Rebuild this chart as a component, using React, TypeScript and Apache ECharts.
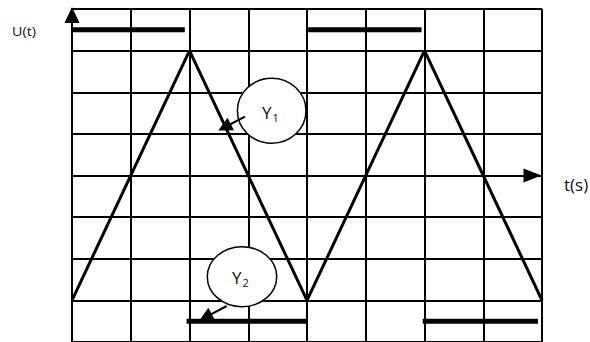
import React, { useEffect, useRef } from "react";
import * as echarts from "echarts";

// Axis ranges (time in grid units, voltage in grid units)
const T_MIN = 0;
const T_MAX = 8;
const T_STEP = 1;
const U_MIN = -4;
const U_MAX = 4;
const U_STEP = 1;

// Y1: triangle wave
const y1Times = [0, 2, 4, 6, 8];
const y1Values = [-3, 3, -3, 3, -3];

// Y2: square wave segments
const y2Starts = [0, 1.95, 4.02, 5.97];
const y2Ends = [1.92, 4.0, 5.95, 7.93];
const y2Levels = [3.5, -3.5, 3.5, -3.5];

const xName = "t(s)";
const yName = "U(t)";
const labelY1 = ["Y", "1"];
const labelY2 = ["Y", "2"];

const FONT = "'Open Sans', 'DejaVu Sans', sans-serif";

function arrow(x1: number, y1: number, x2: number, y2: number, len = 14, half = 7) {
  const dx = x2 - x1;
  const dy = y2 - y1;
  const L = Math.sqrt(dx * dx + dy * dy);
  const ux = dx / L;
  const uy = dy / L;
  const bx = x2 - ux * len;
  const by = y2 - uy * len;
  const nx = -uy;
  const ny = ux;
  return [
    {
      type: "line",
      z: 100,
      shape: { x1, y1, x2: bx + ux * 2, y2: by + uy * 2 },
      style: { stroke: "#000", lineWidth: 2 },
    },
    {
      type: "polygon",
      z: 100,
      shape: {
        points: [
          [x2, y2],
          [bx + nx * half, by + ny * half],
          [bx - nx * half, by - ny * half],
        ],
      },
      style: { fill: "#000" },
    },
  ];
}

function bubble(cx: number, cy: number, rx: number, ry: number, label: string[], tx: number, ty: number) {
  return [
    {
      type: "ellipse",
      z: 100,
      shape: { cx, cy, rx, ry },
      style: { fill: "#fff", stroke: "#000", lineWidth: 1.5 },
    },
    {
      type: "text",
      z: 101,
      x: tx,
      y: ty,
      style: {
        text: label[0],
        font: `17px ${FONT}`,
        fill: "#111",
        textAlign: "left",
        textVerticalAlign: "middle",
      },
    },
    {
      type: "text",
      z: 101,
      x: tx + 10.5,
      y: ty + 5.5,
      style: {
        text: label[1],
        font: `11px ${FONT}`,
        fill: "#111",
        textAlign: "left",
        textVerticalAlign: "middle",
      },
    },
  ];
}

export default function App() {
  const ref = useRef<HTMLDivElement>(null);

  useEffect(() => {
    if (!ref.current) return;
    const chart = echarts.init(ref.current, undefined, { renderer: "svg" });

    const gridLine = { show: true, lineStyle: { color: "#000", width: 2 } };

    const y2Series = y2Starts.map((s, i) => ({
      type: "line",
      name: "Y2",
      data: [
        [s, y2Levels[i]],
        [y2Ends[i], y2Levels[i]],
      ],
      symbol: "none",
      lineStyle: { color: "#000", width: 5, cap: "butt" },
      z: 5,
    }));

    chart.setOption({
      animation: false,
      backgroundColor: "#fff",
      grid: { left: 72, top: 9, width: 470, height: 338 },
      xAxis: {
        type: "value",
        min: T_MIN,
        max: T_MAX,
        interval: T_STEP,
        axisLine: {
          onZero: true,
          lineStyle: { color: "#000", width: 2 },
          symbol: ["none", "triangle"],
          symbolSize: [14, 18],
          symbolOffset: [0, -9.5],
        },
        axisTick: { show: false },
        axisLabel: { show: false },
        splitLine: gridLine,
      },
      yAxis: {
        type: "value",
        min: U_MIN,
        max: U_MAX,
        interval: U_STEP,
        axisLine: {
          onZero: true,
          lineStyle: { color: "#000", width: 2 },
          symbol: ["none", "triangle"],
          symbolSize: [15, 16],
          symbolOffset: [0, -6],
        },
        axisTick: { show: false },
        axisLabel: { show: false },
        splitLine: gridLine,
      },
      series: [
        {
          type: "line",
          name: "Y1",
          data: y1Times.map((t, i) => [t, y1Values[i]]),
          symbol: "none",
          lineStyle: { color: "#000", width: 3 },
          z: 4,
        },
        ...y2Series,
      ],
      graphic: [
        {
          type: "text",
          z: 101,
          x: 12,
          y: 31,
          scaleX: 1.1,
          style: {
            text: yName,
            font: `13px ${FONT}`,
            fill: "#111",
            textAlign: "left",
            textVerticalAlign: "middle",
          },
        },
        {
          type: "text",
          z: 101,
          x: 564,
          y: 184,
          style: {
            text: xName,
            font: `17px ${FONT}`,
            fill: "#111",
            textAlign: "left",
            textVerticalAlign: "middle",
          },
        },
        ...bubble(271.7, 110.8, 34.3, 32.5, labelY1, 262, 112.3),
        ...arrow(245, 116.7, 218.3, 130.5),
        ...bubble(242, 276.7, 34.7, 30, labelY2, 232, 277.3),
        ...arrow(226.7, 306, 199.3, 320.5),
      ],
    });

    return () => chart.dispose();
  }, []);

  return (
    <div
      ref={ref}
      style={{ position: "absolute", left: 0, top: 0, width: 590, height: 342 }}
    />
  );
}
